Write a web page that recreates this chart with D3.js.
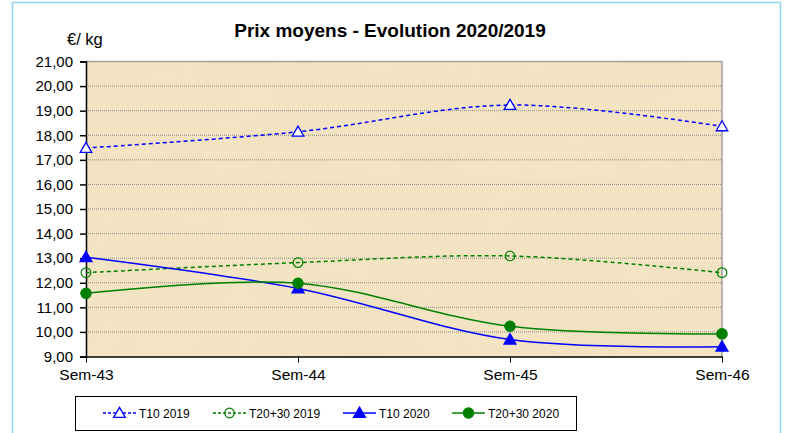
<!DOCTYPE html>
<html><head><meta charset="utf-8">
<script src="https://cdn.jsdelivr.net/npm/d3@7"></script>
<style>body{margin:0;background:#fff;}svg{display:block;font-family:"Liberation Sans",Arial,sans-serif;}</style>
</head><body>
<svg id="c" width="789" height="433"></svg>
<script>
const categories = ["Sem-43","Sem-44","Sem-45","Sem-46"];
const t10_2019 = [17.48, 18.14, 19.23, 18.36];
const t2030_2019 = [12.41, 12.82, 13.09, 12.41];
const t10_2020 = [13.04, 11.77, 9.69, 9.40];
const t2030_2020 = [11.57, 11.98, 10.23, 9.92];
const yTicks = [9,10,11,12,13,14,15,16,17,18,19,20,21];
const title = "Prix moyens - Evolution 2020/2019";
const yLabel = "€/ kg";

const series = [
  {name:"T10 2019", values:t10_2019, color:"#0000FF", dash:"4,3", marker:"triangle", filled:false},
  {name:"T20+30 2019", values:t2030_2019, color:"#008000", dash:"4,3", marker:"circle", filled:false},
  {name:"T10 2020", values:t10_2020, color:"#0000FF", dash:null, marker:"triangle", filled:true},
  {name:"T20+30 2020", values:t2030_2020, color:"#008000", dash:null, marker:"circle", filled:true}
];

const svg = d3.select("#c");
const L=86, R=722, T=61.5, B=356.5;
const x = d3.scalePoint().domain(categories).range([L,R]);
const y = d3.scaleLinear().domain([9,21]).range([B,T]);

// outer border
svg.append("rect").attr("x",12.5).attr("y",2.5).attr("width",768).attr("height",440)
  .attr("fill","#fff").attr("stroke","#8fd3f0").attr("stroke-width",1.5);

// texture
const defs = svg.append("defs");
const f = defs.append("filter").attr("id","tex").attr("x",0).attr("y",0).attr("width","100%").attr("height","100%");
f.append("feTurbulence").attr("type","fractalNoise").attr("baseFrequency","0.015 0.025").attr("numOctaves",4).attr("seed",3).attr("result","n");
f.append("feColorMatrix").attr("in","n").attr("type","matrix")
  .attr("values","0 0 0 0 0.84  0 0 0 0 0.72  0 0 0 0 0.50  1.2 0 0 0 -0.4").attr("result","c");
f.append("feComposite").attr("in","c").attr("in2","SourceGraphic").attr("operator","in");

svg.append("rect").attr("x",L).attr("y",T).attr("width",R-L).attr("height",B-T).attr("fill","#F3E4C3");
svg.append("rect").attr("x",L).attr("y",T).attr("width",R-L).attr("height",B-T).attr("fill","#F3E4C3").attr("filter","url(#tex)").attr("opacity",0.5);

// grid
svg.append("g").selectAll("line").data(yTicks.filter(d=>d>9 && d<21)).join("line")
  .attr("x1",L).attr("x2",R).attr("y1",d=>y(d)).attr("y2",d=>y(d))
  .attr("stroke","#8a8a8a").attr("stroke-width",1).attr("stroke-dasharray","1,1");
// plot border top/right
svg.append("path").attr("d",`M${L},${T}H${R}V${B}`).attr("fill","none").attr("stroke","#a0a0a0").attr("stroke-width",1.5);

// axes
const yAxis = d3.axisLeft(y).tickValues(yTicks).tickSize(6).tickFormat(d=>d3.format(".2f")(d).replace(".",","));
const gy = svg.append("g").attr("transform",`translate(${L},0)`).call(yAxis);
gy.select(".domain").attr("stroke","#000").attr("stroke-width",1.5);
gy.selectAll(".tick line").attr("stroke","#000").attr("stroke-width",1.5);
gy.selectAll(".tick text").attr("font-size","15px").attr("fill","#000").attr("x",-13).attr("font-family","Liberation Sans, Arial, sans-serif");

const xAxis = d3.axisBottom(x).tickSize(6).tickSizeOuter(0);
const gx = svg.append("g").attr("transform",`translate(0,${B})`).call(xAxis);
gx.select(".domain").attr("stroke","#000").attr("stroke-width",1.5);
gx.selectAll(".tick line").attr("stroke","#000").attr("stroke-width",1);
gx.selectAll(".tick text").attr("font-size","15.5px").attr("fill","#000").attr("y",12).attr("font-family","Liberation Sans, Arial, sans-serif");

// lines
const line = d3.line().x((d,i)=>x(categories[i])).y(d=>y(d)).curve(d3.curveCatmullRom.alpha(0));
const tri = d3.symbol().type(d3.symbolTriangle);
function drawMarker(g, s, cx, cy){
  if(s.marker==="triangle"){
    g.append("path").attr("d",tri.size(s.filled?62:58)()).attr("transform",`translate(${cx},${cy+1})`)
      .attr("fill",s.filled?s.color:"#fff").attr("stroke",s.color).attr("stroke-width",1.3);
  } else {
    g.append("circle").attr("cx",cx).attr("cy",cy).attr("r",s.filled?5.2:4.8)
      .attr("fill",s.filled?s.color:"none").attr("stroke",s.color).attr("stroke-width",1.2);
  }
}
series.forEach(s=>{
  const g = svg.append("g");
  g.append("path").attr("d",line(s.values)).attr("fill","none").attr("stroke",s.color)
    .attr("stroke-width",1.5).attr("stroke-dasharray",s.dash);
  s.values.forEach((v,i)=>drawMarker(g,s,x(categories[i]),y(v)));
});

// title & y label
svg.append("text").attr("x",390).attr("y",37).attr("text-anchor","middle").attr("font-weight","bold").attr("font-size","19px").text(title);
svg.append("text").attr("x",67).attr("y",45).attr("font-size","16.5px").text(yLabel);

// legend
svg.append("rect").attr("x",75.5).attr("y",396.5).attr("width",501).attr("height",34).attr("fill","#fff").attr("stroke","#000").attr("stroke-width",1);
const legX = [103, 213, 343, 452];
series.forEach((s,i)=>{
  const g = svg.append("g");
  const x0 = legX[i], ly = 413;
  g.append("line").attr("x1",x0).attr("x2",x0+33).attr("y1",ly).attr("y2",ly).attr("stroke",s.color).attr("stroke-width",1.3).attr("stroke-dasharray",s.dash?"3,2":null);
  drawMarker(g,s,x0+16.5,ly);
  g.append("text").attr("x",x0+36).attr("y",ly+4.5).attr("font-size","12px").text(s.name);
});
</script>
</body></html>
